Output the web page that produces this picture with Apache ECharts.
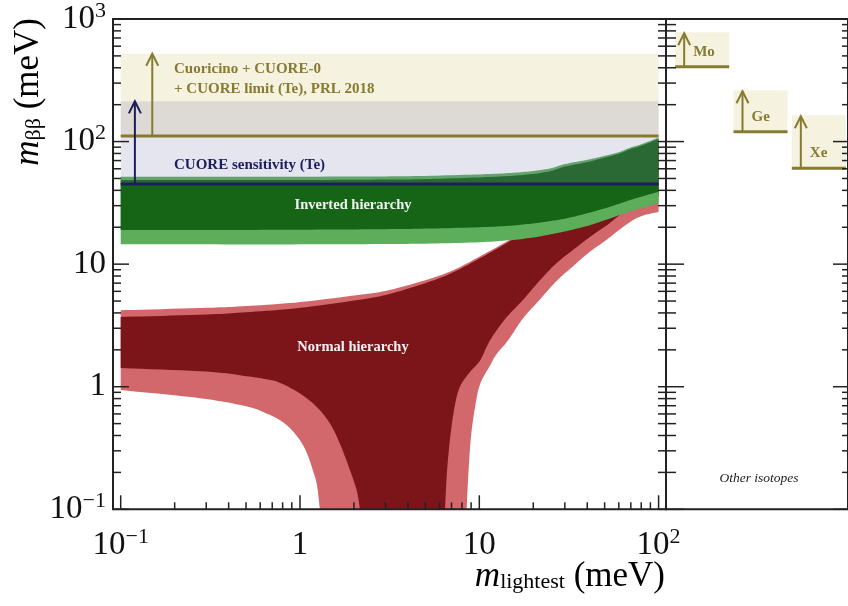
<!DOCTYPE html>
<html><head><meta charset="utf-8">
<script src="https://cdn.jsdelivr.net/npm/echarts@6/dist/echarts.min.js"></script>
<style>html,body{margin:0;padding:0;background:#fff}#c{width:848px;height:606px}</style>
</head><body><div id="c"></div>
<script>
// ================= DATA =================
const mRange = [0.1, 100];                 // m_lightest extent of the bands (meV)
const teLimit = [111, 520];                // Cuoricino + CUORE-0 + CUORE limit (Te)
const cuoreSens = [45, 213];               // CUORE sensitivity (Te)
const teArrowM = 0.15;
const sensArrowM = 0.12;

// Inverted hierarchy
const ihM       = [0.1, 0.3, 1, 3, 5, 10, 15, 20, 25, 30, 40, 50, 60, 70, 80, 100];
const ihOuterUp = [51.6, 51.6, 51.7, 52, 52.5, 54, 55.5, 57.5, 60.5, 65.5, 71, 76.5, 82, 89.5, 95, 108];
const ihInnerUp = [48.5, 48.5, 48.6, 49, 49.4, 51, 52.5, 54.5, 57.5, 62.5, 68, 74, 79.5, 87, 92.5, 105];
const ihInnerLo = [19.0, 19.0, 19.1, 19.3, 19.5, 20.0, 20.6, 21.5, 22.5, 23.5, 26, 28.5, 31, 33.5, 35.5, 39];
const ihOuterLo = [14.5, 14.5, 14.5, 14.6, 14.7, 15.1, 15.7, 16.5, 17.5, 18.5, 20.5, 22.8, 25, 27, 28.7, 31.5];

// Normal hierarchy: upper edges
const nhM       = [0.1, 0.3, 0.5, 1, 2, 3, 5, 7, 10, 15, 20, 30, 50, 70, 100];
const nhOuterUp = [4.21, 4.4, 4.55, 4.9, 5.55, 6.05, 7.4, 8.8, 11.5, 16, 21, 31, 51, 71, 101];
const nhInnerUp = [3.71, 3.88, 4.05, 4.4, 5.05, 5.6, 7.0, 8.45, 11.1, 15.6, 20.5, 30.5, 50.5, 70.5, 100];
// Normal hierarchy: lower edges (right branch from the cusp upward, left branch from the cusp to m=0.1)
const nhInnerLoRightM = [6.44, 6.6, 6.9, 7.3, 7.8, 8.8, 10.1, 11.5, 14, 17.5, 22, 27, 35, 41.5, 52, 63, 80, 100];
const nhInnerLoRightV = [0.1, 0.2, 0.4, 0.7, 1.0, 1.3, 1.64, 2.4, 3.6, 5.1, 7.5, 10.2, 13.8, 16.7, 21, 26, 30.5, 36];
const nhInnerLoLeftM  = [2.16, 2.07, 1.9, 1.67, 1.47, 1.24, 1.0, 0.77, 0.65, 0.5, 0.3, 0.1];
const nhInnerLoLeftV  = [0.1, 0.143, 0.208, 0.343, 0.5, 0.684, 0.88, 1.08, 1.15, 1.22, 1.33, 1.42];
const nhOuterLoRightM = [8.5, 8.7, 9.0, 9.5, 10.1, 11.5, 12.5, 14.5, 17.5, 21.6, 27, 33, 41, 51, 63, 78, 100];
const nhOuterLoRightV = [0.1, 0.2, 0.4, 0.7, 1.05, 1.5, 1.85, 2.4, 3.6, 5.08, 7.3, 9.5, 12.5, 15.7, 20, 24.3, 26.7];
const nhOuterLoLeftM  = [1.29, 1.244, 1.18, 1.094, 1.0, 0.88, 0.774, 0.646, 0.5, 0.277, 0.1];
const nhOuterLoLeftV  = [0.1, 0.157, 0.208, 0.286, 0.366, 0.458, 0.533, 0.608, 0.693, 0.806, 0.94];

// Other isotopes
const isotopes = ['Mo', 'Ge', 'Xe'];
const isoLow   = [408, 120, 60.5];
const isoHigh  = [780, 262, 164];

// Tick labels
const xTickValues = [0.1, 1, 10, 100];
const xTickLabels = ['{b|10}{s|\u22121}', '{b|1}', '{b|10}', '{b|10}{s|2}'];
const yTickValues = [0.1, 1, 10, 100, 1000];
const yTickLabels = ['{b|10}{s|\u22121}', '{b|1}', '{b|10}', '{b|10}{s|2}', '{b|10}{s|3}'];

// ================= STYLE =================
const SERIF = '"Liberation Serif", "DejaVu Serif", serif';
const CREAM = '#f5f2e0', OLIVE = '#877b31', NAVY = '#1c1f5b';
const LAV = 'rgba(125,125,175,0.2)';
const DKGREEN = '#166516', LTGREEN = '#5cae5a';
const DKRED = '#7c1519', LTRED = '#d3686c';
const AXC = '#222';

function logTicks(lo, hi) {
  const major = [], minor = [];
  for (let e = lo; e <= hi; e++) {
    major.push(Math.pow(10, e));
    if (e < hi) for (let k = 2; k <= 9; k++) minor.push(k * Math.pow(10, e));
  }
  return { major, minor };
}
const yT = logTicks(-1, 3), xT = logTicks(-1, 2);

function labelFor(values, labels) {
  return v => {
    const e = Math.round(Math.log10(v));
    const i = values.findIndex(t => Math.round(Math.log10(t)) === e);
    return i >= 0 ? labels[i] : '';
  };
}
const tickRich = {
  b: { fontFamily: SERIF, fontSize: 33, lineHeight: 38, color: '#111' },
  s: { fontFamily: SERIF, fontSize: 22, lineHeight: 22, verticalAlign: 'top', color: '#111' }
};

// curve outline drawing: smooth the pixel outline through the read points (Catmull-Rom)
function smoothPx(P) {
  const out = [], n = P.length;
  if (n < 3) return P.slice();
  for (let i = 0; i < n - 1; i++) {
    const p0 = P[Math.max(i - 1, 0)], p1 = P[i], p2 = P[i + 1], p3 = P[Math.min(i + 2, n - 1)];
    for (let s = 0; s < 10; s++) {
      const t = s / 10, t2 = t * t, t3 = t2 * t;
      out.push([0, 1].map(k => 0.5 * (2 * p1[k] + (-p0[k] + p2[k]) * t +
        (2 * p0[k] - 5 * p1[k] + 4 * p2[k] - p3[k]) * t2 + (-p0[k] + 3 * p1[k] - 3 * p2[k] + p3[k]) * t3)));
    }
  }
  out.push(P[n - 1]);
  return out;
}
function edge(api, ms, vs) { return smoothPx(ms.map((m, i) => api.coord([m, vs[i]]))); }
function rev(a) { return a.slice().reverse(); }

function areaSeries(color, builder) {
  return {
    type: 'custom', coordinateSystem: 'cartesian2d', xAxisIndex: 0, yAxisIndex: 0,
    clip: true, silent: true, data: [[mRange[0], 1]],
    renderItem: (p, api) => ({ type: 'polygon', shape: { points: builder(api) }, style: { fill: color } })
  };
}
function arrowEl(x, yFrom, yTo, color) {
  return { type: 'group', children: [
    { type: 'line', shape: { x1: x, y1: yFrom, x2: x, y2: yTo }, style: { stroke: color, lineWidth: 2 } },
    { type: 'polyline', shape: { points: [[x - 6, yTo + 12], [x, yTo], [x + 6, yTo + 12]] },
      style: { stroke: color, lineWidth: 2, fill: 'none' } }
  ] };
}
function tickSeries(xi, yi, data, len, dx, dy) {
  return {
    type: 'custom', coordinateSystem: 'cartesian2d', xAxisIndex: xi, yAxisIndex: yi, silent: true, z: 20,
    data: data,
    renderItem: (p, api) => {
      const c = api.coord([api.value(0), api.value(1)]);
      return { type: 'line', shape: { x1: c[0], y1: c[1], x2: c[0] + dx * len, y2: c[1] + dy * len },
               style: { stroke: AXC, lineWidth: 1.5 } };
    }
  };
}

const series = [
  // Te limit band
  { type: 'custom', coordinateSystem: 'cartesian2d', xAxisIndex: 0, yAxisIndex: 0, clip: true, silent: true,
    data: [[mRange[0], teLimit[0]]],
    renderItem: (p, api) => {
      const a = api.coord([mRange[0], teLimit[1]]), b = api.coord([mRange[1], teLimit[0]]);
      return { type: 'rect', shape: { x: a[0], y: a[1], width: b[0] - a[0], height: b[1] - a[1] }, style: { fill: CREAM } };
    } },
  // Normal hierarchy
  areaSeries(LTRED, api => edge(api, nhM, nhOuterUp)
    .concat(edge(api, rev(nhOuterLoRightM), rev(nhOuterLoRightV)))
    .concat(edge(api, nhOuterLoLeftM, nhOuterLoLeftV))),
  areaSeries(DKRED, api => edge(api, nhM, nhInnerUp)
    .concat(edge(api, rev(nhInnerLoRightM), rev(nhInnerLoRightV)))
    .concat(edge(api, nhInnerLoLeftM, nhInnerLoLeftV))),
  // Inverted hierarchy
  areaSeries(LTGREEN, api => edge(api, ihM, ihOuterUp).concat(edge(api, rev(ihM), rev(ihOuterLo)))),
  areaSeries(DKGREEN, api => edge(api, ihM, ihInnerUp).concat(edge(api, rev(ihM), rev(ihInnerLo)))),
  // CUORE sensitivity overlay, lines and arrows
  { type: 'custom', coordinateSystem: 'cartesian2d', xAxisIndex: 0, yAxisIndex: 0, clip: true, silent: true,
    data: [[mRange[0], cuoreSens[0]]],
    renderItem: (p, api) => {
      const a = api.coord([mRange[0], cuoreSens[1]]), b = api.coord([mRange[1], cuoreSens[0]]);
      const t0 = api.coord([mRange[0], teLimit[0]]), t1 = api.coord([mRange[1], teLimit[0]]);
      const ta = api.coord([teArrowM, teLimit[0]]), tb = api.coord([teArrowM, teLimit[1]]);
      const sa = api.coord([sensArrowM, cuoreSens[0]]), sb = api.coord([sensArrowM, cuoreSens[1]]);
      return { type: 'group', children: [
        { type: 'rect', shape: { x: a[0], y: a[1], width: b[0] - a[0], height: b[1] - a[1] }, style: { fill: LAV } },
        { type: 'line', shape: { x1: t0[0], y1: t0[1], x2: t1[0], y2: t1[1] }, style: { stroke: OLIVE, lineWidth: 3 } },
        { type: 'line', shape: { x1: a[0], y1: b[1], x2: b[0], y2: b[1] }, style: { stroke: NAVY, lineWidth: 3 } },
        arrowEl(ta[0], ta[1], tb[1], OLIVE),
        arrowEl(sa[0], sa[1], sb[1], NAVY)
      ] };
    } },
  // other isotopes
  { type: 'custom', coordinateSystem: 'cartesian2d', xAxisIndex: 3, yAxisIndex: 3, silent: true,
    data: isotopes.map((n, i) => [i, isoLow[i], isoHigh[i]]),
    renderItem: (p, api) => {
      const i = api.value(0);
      const c = api.coord([i, api.value(1)]), t = api.coord([i, api.value(2)]);
      const bw = api.size([1, 0])[0] * 0.926;
      const x0 = c[0] - bw / 2;
      return { type: 'group', children: [
        { type: 'rect', shape: { x: x0, y: t[1], width: bw, height: c[1] - t[1] }, style: { fill: CREAM } },
        { type: 'line', shape: { x1: x0, y1: c[1], x2: x0 + bw, y2: c[1] }, style: { stroke: OLIVE, lineWidth: 3 } },
        arrowEl(x0 + 9, c[1], t[1] + 1, OLIVE),
        { type: 'text', x: x0 + 18, y: c[1] - 15,
          style: { text: isotopes[i], fill: OLIVE, font: 'bold 15px ' + SERIF, align: 'left', verticalAlign: 'middle' } }
      ] };
    } },
  // ticks
  tickSeries(1, 1, yT.major.map(v => [0, v]), 16, 1, 0),
  tickSeries(1, 1, yT.minor.map(v => [0, v]), 8, 1, 0),
  tickSeries(1, 1, yT.major.map(v => [1, v]), 8, -1, 0),
  tickSeries(1, 1, yT.minor.map(v => [1, v]), 8, -1, 0),
  tickSeries(2, 2, yT.major.map(v => [0, v]), 18, 1, 0),
  tickSeries(2, 2, yT.minor.map(v => [0, v]), 10, 1, 0),
  tickSeries(2, 2, yT.major.map(v => [1, v]), 15, -1, 0),
  tickSeries(2, 2, yT.minor.map(v => [1, v]), 6, -1, 0),
  tickSeries(0, 0, xT.major.map(v => [v, 0.1]), 14, 0, -1),
  tickSeries(0, 0, xT.minor.map(v => [v, 0.1]), 7, 0, -1)
];

const gridTop = 19, gridBottom = 96.7;
const titleRich = {
  m: { fontFamily: SERIF, fontStyle: 'italic', fontSize: 35, lineHeight: 34, padding: [0, 0, 11, 0], verticalAlign: 'top', color: '#111' },
  sub: { fontFamily: SERIF, fontSize: 22, lineHeight: 22, verticalAlign: 'bottom', color: '#111' },
  u: { fontFamily: SERIF, fontSize: 35, lineHeight: 34, padding: [0, 0, 11, 0], verticalAlign: 'top', color: '#111' }
};
const option = {
  animation: false,
  backgroundColor: '#fff',
  grid: [
    { left: 120.7, right: 189.4, top: gridTop, bottom: gridBottom },
    { left: 113, right: 182, top: gridTop, bottom: gridBottom, show: true, borderColor: AXC, borderWidth: 2, backgroundColor: 'transparent', z: 10 },
    { left: 666, right: -2, top: gridTop, bottom: gridBottom, show: true, borderColor: AXC, borderWidth: 2, backgroundColor: 'transparent', z: 10 },
    { left: 673, right: 0, top: gridTop, bottom: gridBottom }
  ],
  xAxis: [
    { gridIndex: 0, type: 'log', logBase: 10, min: 0.1, max: 100,
      axisLine: { show: false }, axisTick: { show: false }, splitLine: { show: false },
      axisLabel: { show: true, margin: 17, showMinLabel: true, showMaxLabel: true,
                   formatter: labelFor(xTickValues, xTickLabels), rich: tickRich } },
    { gridIndex: 1, type: 'value', min: 0, max: 1, show: false },
    { gridIndex: 2, type: 'value', min: 0, max: 1, show: false },
    { gridIndex: 3, type: 'category', data: isotopes, show: false }
  ],
  yAxis: [
    { gridIndex: 0, type: 'log', logBase: 10, min: 0.1, max: 1000, show: false },
    { gridIndex: 1, type: 'log', logBase: 10, min: 0.1, max: 1000,
      axisLine: { show: false }, axisTick: { show: false }, splitLine: { show: false },
      axisLabel: { show: true, margin: 7, showMinLabel: true, showMaxLabel: true,
                   formatter: labelFor(yTickValues, yTickLabels), rich: tickRich } },
    { gridIndex: 2, type: 'log', logBase: 10, min: 0.1, max: 1000, show: false },
    { gridIndex: 3, type: 'log', logBase: 10, min: 0.1, max: 1000, show: false }
  ],
  series: series,
  graphic: [
    { type: 'text', x: 174, y: 69.5, z: 100, silent: true,
      style: { text: 'Cuoricino + CUORE-0', fill: OLIVE, font: 'bold 15px ' + SERIF, verticalAlign: 'middle' } },
    { type: 'text', x: 174, y: 88.7, z: 100, silent: true,
      style: { text: '+ CUORE limit (Te), PRL 2018', fill: OLIVE, font: 'bold 15px ' + SERIF, verticalAlign: 'middle' } },
    { type: 'text', x: 174, y: 165, z: 100, silent: true,
      style: { text: 'CUORE sensitivity (Te)', fill: NAVY, font: 'bold 15px ' + SERIF, verticalAlign: 'middle' } },
    { type: 'text', x: 353, y: 205, z: 100, silent: true,
      style: { text: 'Inverted hierarchy', fill: '#f4f4f4', font: 'bold 14.5px ' + SERIF, align: 'center', verticalAlign: 'middle' } },
    { type: 'text', x: 353, y: 347, z: 100, silent: true,
      style: { text: 'Normal hierarchy', fill: '#f4f4f4', font: 'bold 14.5px ' + SERIF, align: 'center', verticalAlign: 'middle' } },
    { type: 'text', x: 759, y: 478, z: 100, silent: true,
      style: { text: 'Other isotopes', fill: '#222', font: 'italic 13.5px ' + SERIF, align: 'center', verticalAlign: 'middle' } },
    // axis titles
    { type: 'text', x: 665, y: 559, z: 100, silent: true,
      style: { text: '{m|m}{sub|lightest}{u| (meV)}', align: 'right', verticalAlign: 'top', rich: titleRich } },
    { type: 'text', x: 11, y: 18, rotation: Math.PI / 2, z: 100, silent: true,
      style: { text: '{m|m}{sub|\u03b2\u03b2}{u| (meV)}', align: 'right', verticalAlign: 'top', rich: titleRich } }
  ]
};

const chart = echarts.init(document.getElementById('c'), null, { renderer: 'canvas', width: 848, height: 606 });
chart.setOption(option);
</script>
</body></html>
